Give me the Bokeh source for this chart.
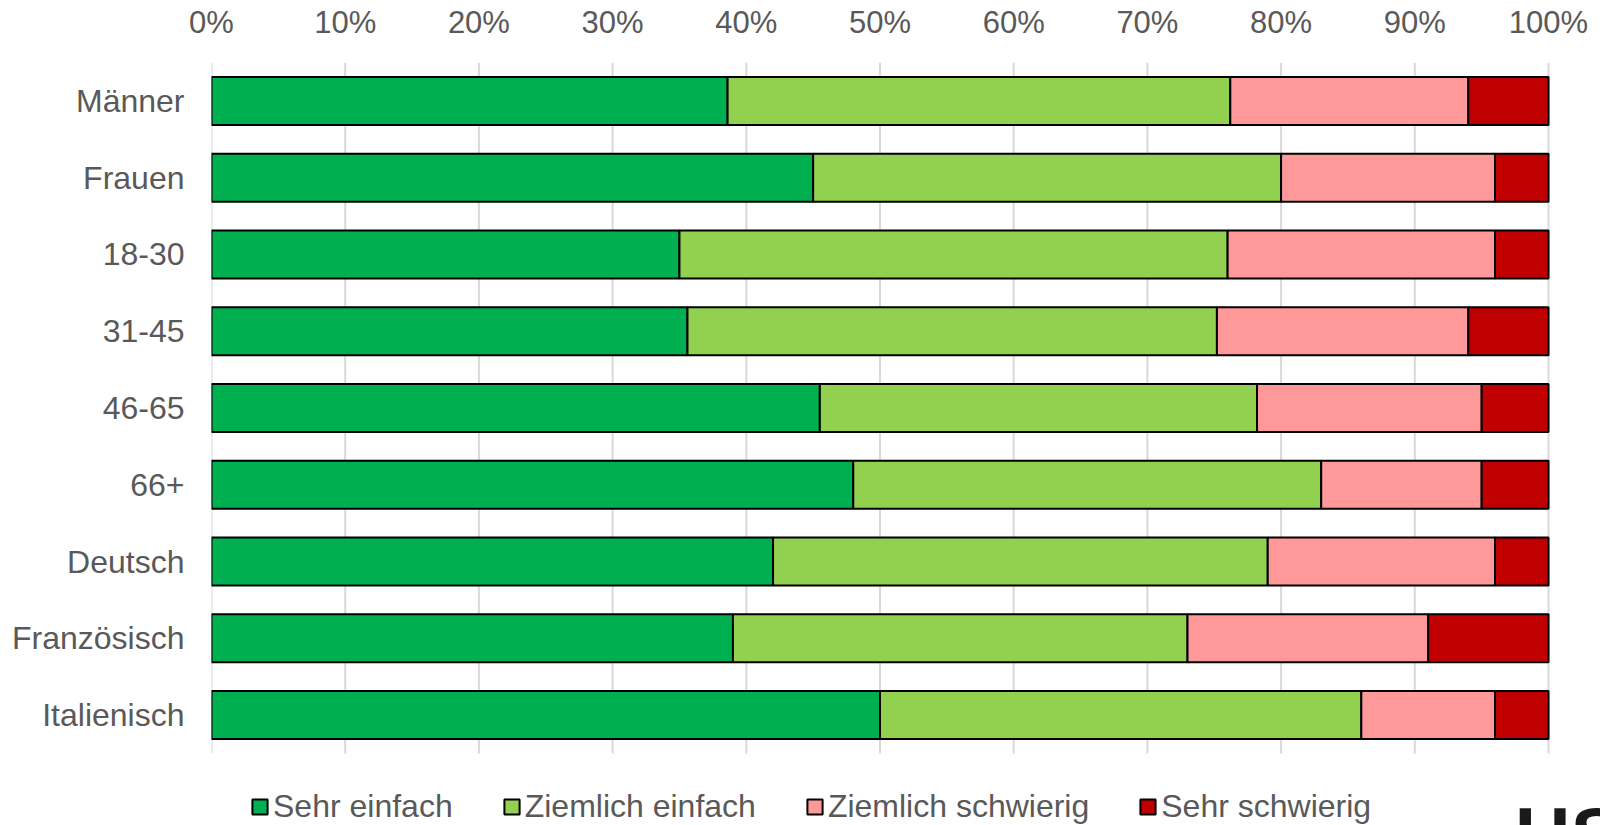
from bokeh.plotting import figure
from bokeh.models import ColumnDataSource, Range1d, NumeralTickFormatter, FixedTicker, Legend, LegendItem, Label
from bokeh.embed import file_html
from bokeh.resources import INLINE

categories = ["Männer", "Frauen", "18-30", "31-45", "46-65", "66+", "Deutsch", "Französisch", "Italienisch"]
sehr_einfach = [38.6, 45.0, 35.0, 35.6, 45.5, 48.0, 42.0, 39.0, 50.0]
ziemlich_einfach = [37.6, 35.0, 41.0, 39.6, 32.7, 35.0, 37.0, 34.0, 36.0]
ziemlich_schwierig = [17.8, 16.0, 20.0, 18.8, 16.8, 12.0, 17.0, 18.0, 10.0]
sehr_schwierig = [6.0, 4.0, 4.0, 6.0, 5.0, 5.0, 4.0, 9.0, 4.0]
series_names = ["Sehr einfach", "Ziemlich einfach", "Ziemlich schwierig", "Sehr schwierig"]
colors = ["#00B050", "#92D050", "#FF9999", "#C00000"]
tick_values = [0, 0.1, 0.2, 0.3, 0.4, 0.5, 0.6, 0.7, 0.8, 0.9, 1.0]

n = len(categories)
positions = [n - 1 - i for i in range(n)]  # first category on top

keys = ["s1", "s2", "s3", "s4"]
data = {"cat": categories, "pos": positions}
for k, vals in zip(keys, [sehr_einfach, ziemlich_einfach, ziemlich_schwierig, sehr_schwierig]):
    data[k] = [v / 100.0 for v in vals]
source = ColumnDataSource(data)

FONT = "Liberation Sans"
GREY = "#595959"

W, H = 1600, 825
LEFT, RIGHT, TOP = 211, 1548, 62          # pixel frame of the bar area
ROW_PX = (753 - TOP) / n
x_end = 1.0 + (W - RIGHT) / (RIGHT - LEFT)
y_start = -0.5 - (H - 753) / ROW_PX

p = figure(width=W, height=H, output_backend="svg", toolbar_location=None,
           x_range=Range1d(0, x_end), y_range=Range1d(y_start, n - 0.5),
           x_axis_location="above",
           min_border_left=LEFT, min_border_right=0, min_border_top=TOP, min_border_bottom=0)
p.outline_line_color = None
p.grid.grid_line_color = None

# vertical grid lines over the bar area only
p.segment(x0=tick_values, y0=[-0.5] * len(tick_values), x1=tick_values, y1=[n - 0.5] * len(tick_values),
          line_color="#D9D9D9", line_width=2)

renderers = p.hbar_stack(keys, y="pos", height=0.625, color=colors, line_color="black",
                         line_width=2, source=source)

p.xaxis.ticker = FixedTicker(ticks=tick_values)
p.xaxis.formatter = NumeralTickFormatter(format="0%")
p.yaxis.ticker = FixedTicker(ticks=positions)
p.yaxis.major_label_overrides = {pos: cat for pos, cat in zip(positions, categories)}
for ax in (p.xaxis[0], p.yaxis[0]):
    ax.axis_line_color = None
    ax.major_tick_line_color = None
    ax.minor_tick_line_color = None
    ax.major_label_text_font = FONT
    ax.major_label_text_color = GREY
p.xaxis.major_label_text_font_size = "31px"
p.yaxis.major_label_text_font_size = "32px"
p.xaxis.major_label_standoff = 17
p.yaxis.major_label_standoff = 21

legend = Legend(items=[LegendItem(label=nm, renderers=[r]) for nm, r in zip(series_names, renderers)],
                orientation="horizontal", location=(39, 0),
                label_text_font=FONT, label_text_font_size="32px", label_text_color=GREY,
                glyph_width=19, glyph_height=19, label_standoff=4, spacing=49,
                padding=0, margin=0, border_line_color=None, background_fill_alpha=0)
p.add_layout(legend, "center")

logo = Label(x=0.9745, y=y_start + (H - 790) / ROW_PX, text="HS",
             text_font=FONT, text_font_style="bold", text_font_size="78px",
             text_color="#1a1a1a", text_baseline="top")
p.add_layout(logo)

open("out.html", "w").write(file_html(p, INLINE))
